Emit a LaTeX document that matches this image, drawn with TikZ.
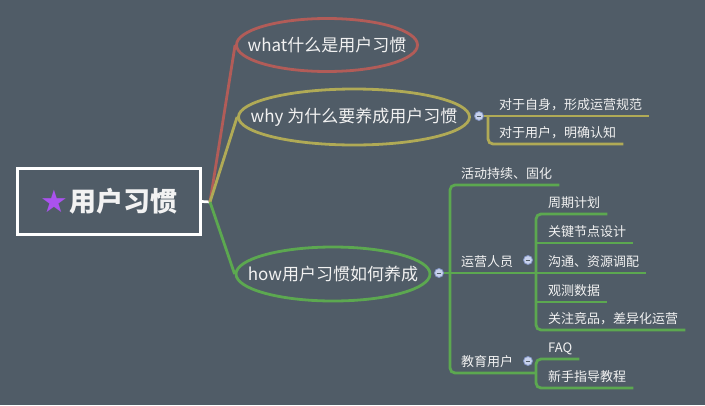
\documentclass[tikz,border=0pt]{standalone}
\usepackage{fontspec}
\setmainfont{Noto Sans CJK SC}
\newfontfamily\starfont{DejaVu Sans}
\usetikzlibrary{shapes.geometric}
\usetikzlibrary{positioning}
\pgfdeclarelayer{background}
\pgfsetlayers{background,main}
\definecolor{bgcol}{RGB}{80,92,103}
\definecolor{redcol}{RGB}{178,92,88}
\definecolor{yelcol}{RGB}{176,170,86}
\definecolor{grncol}{RGB}{92,168,80}
\definecolor{txtcol}{RGB}{242,242,242}
\definecolor{foldcol}{RGB}{200,210,236}
\definecolor{foldline}{RGB}{130,148,196}
\definecolor{starcol}{RGB}{170,82,238}

\begin{document}
\begin{tikzpicture}[x=1pt, y=-1pt]

\tikzstyle{root} = [rectangle, draw=white, line width=2.7pt, minimum width=183pt, minimum height=66pt, text=txtcol, font=\fontsize{27}{30}\selectfont\bfseries]
\tikzstyle{topic} = [ellipse, line width=2.8pt, inner sep=0pt]
\tikzstyle{toptext} = [text=txtcol, inner sep=0pt, font=\fontsize{17}{20}\selectfont]
\tikzstyle{leaf} = [anchor=south west, inner xsep=7pt, inner ysep=3pt, text depth=3pt, text=txtcol, font=\fontsize{13}{15}\selectfont]
\tikzstyle{fold} = [circle, draw=foldline, fill=foldcol, line width=0.8pt, minimum size=9pt, inner sep=0pt, path picture={\draw[bgcol, line width=1pt] ([xshift=2.2pt]path picture bounding box.west) -- ([xshift=-2.2pt]path picture bounding box.east);}]
\tikzstyle{whiteline} = [draw=white, line width=2.7pt]
\tikzstyle{redline} = [draw=redcol, line width=2.8pt]
\tikzstyle{yelline} = [draw=yelcol, line width=2.8pt]
\tikzstyle{grnline} = [draw=grncol, line width=2.8pt]

\useasboundingbox (0,0) rectangle (705,405);

% centre topic
\node (core) [root] at (109,201.5) {{\starfont\color{starcol}\fontsize{31}{34}\selectfont\raisebox{-1pt}{★}}\kern1pt 用户习惯};
\coordinate (hub) at (210,202);

% main topics
\node (what) [topic, draw=redcol, minimum width=181pt, minimum height=53pt] at (327,45) {};
\node (whatlbl) [toptext] at (what) {what什么是用户习惯};
\node (why) [topic, draw=yelcol, minimum width=231pt, minimum height=56pt] at (354,117) {};
\node (whylbl) [toptext] at (why) {why 为什么要养成用户习惯};
\node (how) [topic, draw=grncol, minimum width=194pt, minimum height=54pt] at (333,274) {};
\node (howlbl) [toptext] at (how) {how用户习惯如何养成};

% why
\node (zs) [leaf] at (492,116) {对于自身，形成运营规范};
\node (yh) [leaf] at (492,144) {对于用户，明确认知};
\coordinate (whytrunk) at (488,116);

% how
\node (hd) [leaf] at (454,185) {活动持续、固化};
\node (yy) [leaf] at (454,273) {运营人员};
\node (jy) [leaf] at (454,373) {教育用户};
\coordinate (howtrunk) at (450,273);
\coordinate (yytrunk) at (536,273);
\coordinate (jytrunk) at (536,373);

\node (zq) [leaf] at (541,214) {周期计划};
\node (gj) [leaf] at (541,243) {关键节点设计};
\node (gt) [leaf] at (541,273) {沟通、资源调配};
\node (gc) [leaf] at (541,302) {观测数据};
\node (gz) [leaf] at (541,330) {关注竞品，差异化运营};
\node (faq) [leaf] at (541,359) {FAQ};
\node (xs) [leaf] at (541,388) {新手指导教程};

% folds
\node (whyfold) [fold] at (479,116) {};
\node (howfold) [fold] at (439,273) {};
\node (yyfold) [fold] at (528,260) {};
\node (jyfold) [fold] at (528,361) {};

\begin{pgfonlayer}{background}
\fill [bgcol] (0,0) rectangle (705,405);
\draw [whiteline] (core.east) -- (hub);
\draw [redline] (hub) -- (what.west);
\draw [yelline] (hub) -- (why.west);
\draw [grnline] (hub) -- (how.west);

\draw [yelline] (whyfold.east) -- (zs.south east);
\draw [yelline, rounded corners=5pt] (whytrunk) |- (yh.south east);

\draw [grnline] (howfold.east) -- (howtrunk);
\draw [grnline, rounded corners=5pt] (hd.south east) -| (howtrunk) |- (jytrunk);
\draw [grnline] (howtrunk) -- (yytrunk);
\draw [grnline, rounded corners=5pt] (zq.south east) -| (yytrunk) |- (gz.south east);
\draw [grnline] (gj.south -| yytrunk) -- (gj.south east);
\draw [grnline] (yytrunk) -- (gt.south east);
\draw [grnline] (gc.south -| yytrunk) -- (gc.south east);
\draw [grnline, rounded corners=5pt] (faq.south east) -| (jytrunk) |- (xs.south east);
\end{pgfonlayer}
\end{tikzpicture}
\end{document}
